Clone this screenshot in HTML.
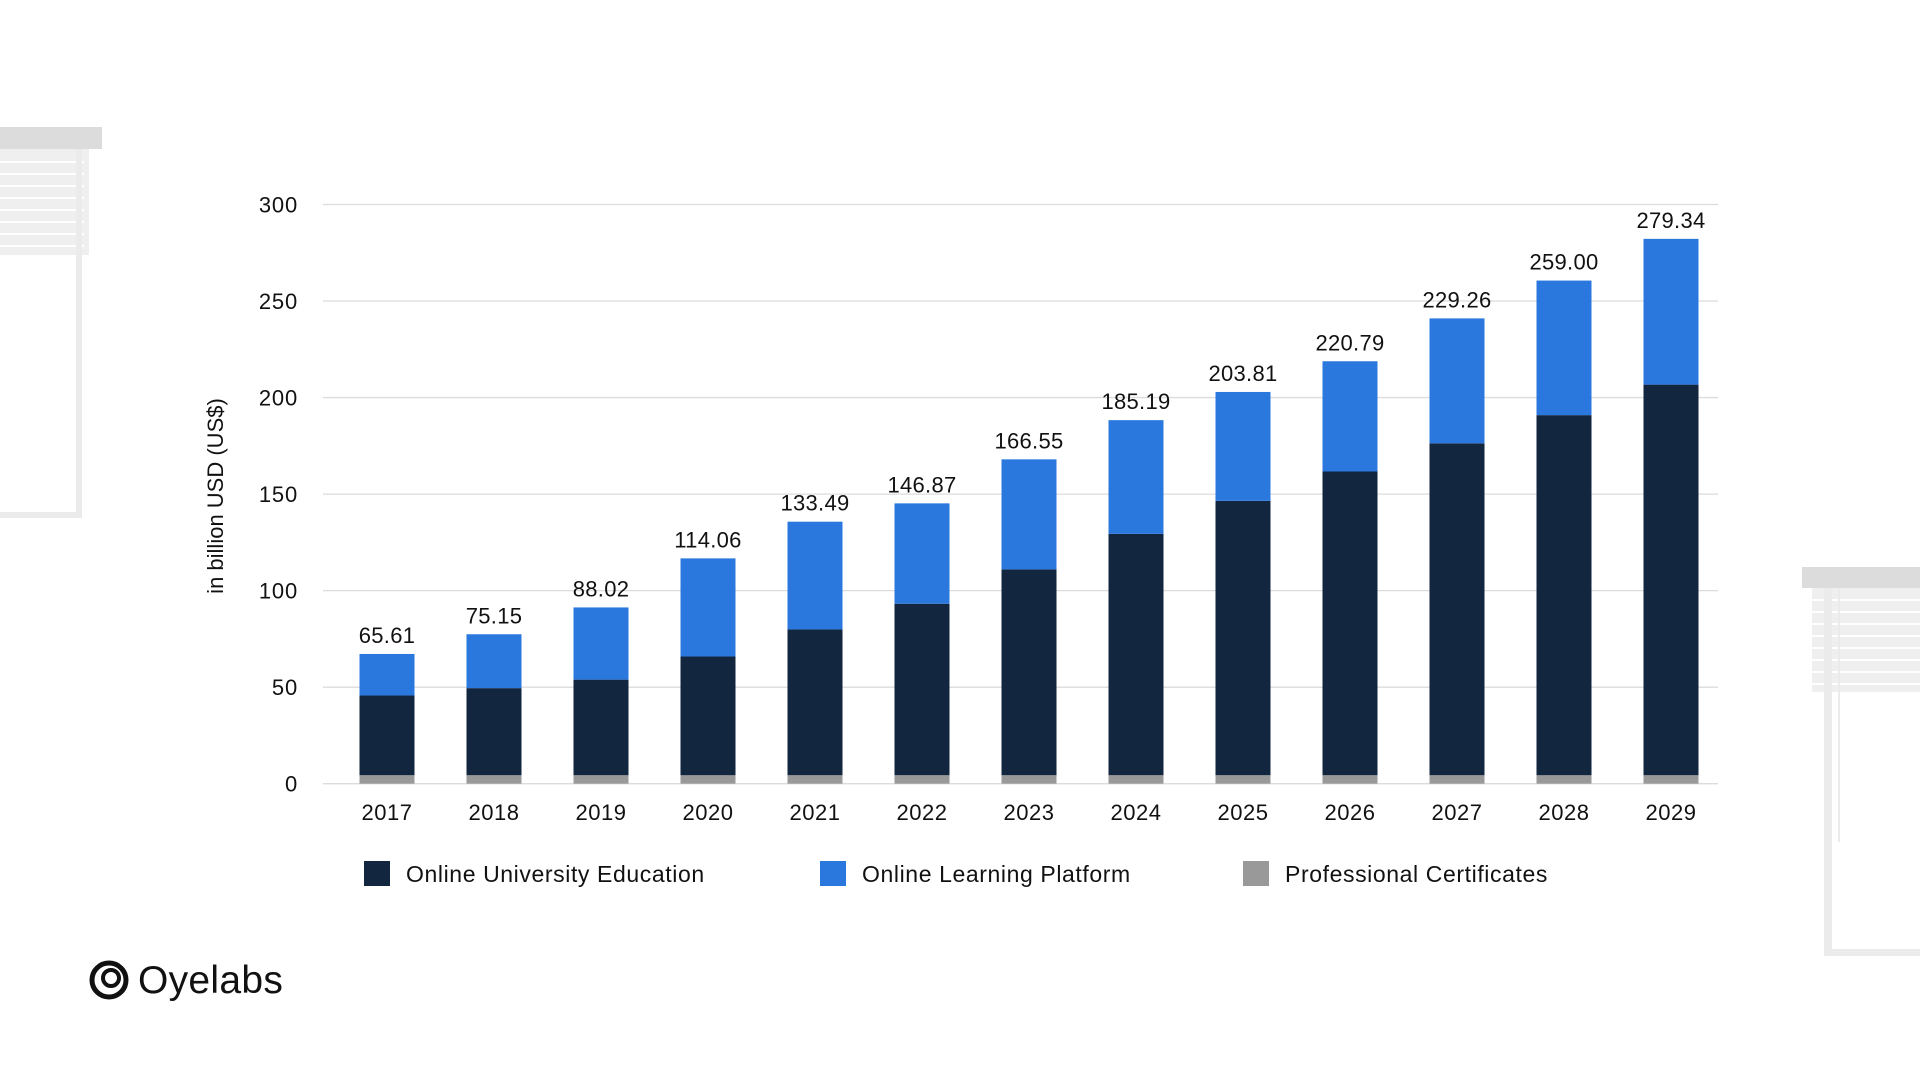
<!DOCTYPE html>
<html><head><meta charset="utf-8"><style>
body{margin:0;width:1920px;height:1080px;background:#fff;overflow:hidden;font-family:"Liberation Sans",sans-serif}
svg{position:absolute;left:0;top:0}
</style></head><body>
<svg width="1920" height="1080">
 <g fill="#ebebeb">
  <rect x="0" y="127" width="102" height="22" fill="#dcdcdc"/>
  <rect x="0" y="149" width="89" height="106" fill="#efefef"/>
  <g stroke="#fff" stroke-width="2"><line x1="0" y1="162" x2="84" y2="162"/><line x1="0" y1="174" x2="84" y2="174"/><line x1="0" y1="186" x2="84" y2="186"/><line x1="0" y1="198" x2="84" y2="198"/><line x1="0" y1="210" x2="84" y2="210"/><line x1="0" y1="222" x2="84" y2="222"/><line x1="0" y1="234" x2="84" y2="234"/><line x1="0" y1="246" x2="84" y2="246"/></g>
  <rect x="76" y="149" width="6" height="369"/>
  <rect x="0" y="512" width="82" height="6"/>
 </g>
 <g fill="#ebebeb">
  <rect x="1802" y="567" width="118" height="21" fill="#dcdcdc"/>
  <rect x="1812" y="588" width="108" height="104" fill="#efefef"/>
  <g stroke="#fff" stroke-width="2"><line x1="1812" y1="600" x2="1920" y2="600"/><line x1="1812" y1="612" x2="1920" y2="612"/><line x1="1812" y1="624" x2="1920" y2="624"/><line x1="1812" y1="636" x2="1920" y2="636"/><line x1="1812" y1="648" x2="1920" y2="648"/><line x1="1812" y1="660" x2="1920" y2="660"/><line x1="1812" y1="672" x2="1920" y2="672"/><line x1="1812" y1="684" x2="1920" y2="684"/></g>
  <rect x="1824" y="588" width="8" height="368"/>
  <rect x="1838" y="588" width="2" height="254"/>
  <rect x="1824" y="949" width="96" height="7"/>
 </g>
 <g id="grid"></g><g id="bars"></g><g id="labels"></g>
 <text transform="translate(223,496) rotate(-90)" text-anchor="middle" font-size="22" fill="#111">in billion USD (US$)</text>
 <g font-size="23" fill="#111" letter-spacing="0.6">
  <g><rect x="364" y="861" width="26" height="25" fill="#12263f"/><text x="406" y="882">Online University Education</text></g>
  <g><rect x="820" y="861" width="26" height="25" fill="#2a78de"/><text x="862" y="882">Online Learning Platform</text></g>
  <g><rect x="1243" y="861" width="26" height="25" fill="#999"/><text x="1285" y="882">Professional Certificates</text></g>
 </g>
 <g>
  <circle cx="109" cy="980" r="17" fill="none" stroke="#111" stroke-width="5"/>
  <circle cx="111" cy="978" r="8" fill="none" stroke="#111" stroke-width="4"/>
  <text x="138" y="993" font-size="39" fill="#111" letter-spacing="0.3">Oyelabs</text>
 </g>
</svg>
<script>
const years=["2017","2018","2019","2020","2021","2022","2023","2024","2025","2026","2027","2028","2029"];
const university=[41.3,45.1,49.5,61.5,75.5,88.8,106.6,125,142.1,157.3,171.9,186.5,202.3];
const platform=[21.5,27.9,37.4,50.8,55.8,52,57,58.9,56.4,57.1,64.7,69.7,75.5];
const certificates=[4.4,4.4,4.4,4.4,4.4,4.4,4.4,4.4,4.4,4.4,4.4,4.4,4.4];
const totals=["65.61","75.15","88.02","114.06","133.49","146.87","166.55","185.19","203.81","220.79","229.26","259.00","279.34"];
const ticks=[0,50,100,150,200,250,300];
const NS="http://www.w3.org/2000/svg";
const y=v=>783.7-v*1.9307, x=i=>387+i*107, bw=55;
function mk(t,a,p){const e=document.createElementNS(NS,t);for(const k in a)e.setAttribute(k,a[k]);p.appendChild(e);return e;}
const G=document.getElementById('grid'),B=document.getElementById('bars'),L=document.getElementById('labels');
ticks.forEach(t=>{
 const l=mk('line',{x1:323,x2:1718,y1:y(t),y2:y(t),stroke:'#dcdcdc','stroke-width':1.3},G);
 
 
 const tx=mk('text',{x:298,y:y(t)+8,'text-anchor':'end','font-size':22,fill:'#111','letter-spacing':0.8},G);tx.textContent=t;
 
 
});
years.forEach((yr,i)=>{
 let base=0;
 [[certificates[i],'#999','certificates'],[university[i],'#12263f','university'],[platform[i],'#2a78de','platform']].forEach(([v,c,n])=>{
  const r=mk('rect',{x:x(i)-bw/2,y:y(base+v),width:bw,height:y(base)-y(base+v),fill:c},B);
  
  
  base+=v;
 });
 const vl=mk('text',{x:x(i),y:y(base)-11,'text-anchor':'middle','font-size':22,fill:'#111','letter-spacing':0.3},L);vl.textContent=totals[i];
 
 
 const xl=mk('text',{x:x(i),y:820,'text-anchor':'middle','font-size':22,fill:'#111','letter-spacing':0.5},L);xl.textContent=yr;
 
 
});
</script>
</body></html>
